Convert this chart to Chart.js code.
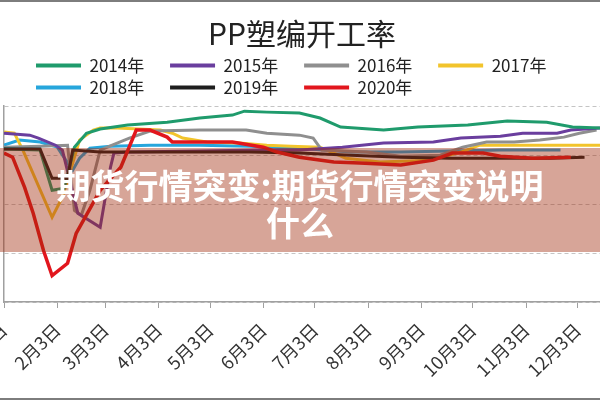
<!DOCTYPE html>
<html>
<head>
<meta charset="utf-8">
<script src="https://cdn.jsdelivr.net/npm/chart.js@4/dist/chart.umd.min.js"></script>
<style>
  body { margin: 0; background: #fff; }
  #wrap { position: relative; width: 600px; height: 400px; overflow: hidden; }
  #banner {
    position: absolute; left: 0; top: 148px; width: 600px; height: 104px;
    background: rgba(160, 40, 10, 0.42);
    color: #fff; text-align: center;
    font-family: "Noto Sans CJK SC", sans-serif; font-weight: 700;
    font-size: 34px; line-height: 37px; padding-top: 18px; box-sizing: border-box;
  }
  .edge { position: absolute; left: 0; width: 600px; height: 2px; background: #7d7d7d; }
</style>
</head>
<body>
<div id="wrap">
  <canvas id="chart" width="600" height="400"></canvas>
  <div id="banner">期货行情突变:期货行情突变说明<br>什么</div>
  <div class="edge" style="top:0"></div>
  <div class="edge" style="top:398px"></div>
</div>
<script>
// x = 日 (一年中的第几天), y = 开工率
const tickDays = [3, 34, 62, 93, 123, 154, 184, 215, 246, 276, 307, 337];
const tickLabels = ["1月3日", "2月3日", "3月3日", "4月3日", "5月3日", "6月3日",
                    "7月3日", "8月3日", "9月3日", "10月3日", "11月3日", "12月3日"];

const seriesNames = ["2014年", "2015年", "2016年", "2017年", "2018年", "2019年", "2020年"];
const seriesColors = ["#1f9b6c", "#6a3e9e", "#8f8f8f", "#f2c42c", "#26a6dc", "#1e1e1e", "#e2161d"];

const days2014 = [3, 24, 31, 38, 44, 51, 59, 75, 98, 117, 136, 143, 156, 175, 187, 199, 224, 244, 273, 296, 319, 334, 350];
const vals2014 = [62.4, 62, 45.6, 46.4, 63.2, 68.9, 70.6, 72.2, 73.4, 75.1, 76.3, 77.9, 77.5, 77.1, 75.1, 71.4, 70.2, 71.4, 72.2, 73.9, 73.4, 71.4, 71];

const days2015 = [3, 18, 23, 33, 37, 46, 59, 65, 67, 76, 117, 152, 175, 200, 224, 253, 269, 292, 305, 325, 333, 350];
const vals2015 = [68.9, 68.1, 66.9, 64, 62, 36.2, 30.5, 55, 60.8, 61.2, 61.6, 62, 62, 63.2, 64.9, 65.3, 66.9, 67.7, 68.9, 68.9, 70.2, 71];

const days2016 = [3, 24, 40, 44, 48, 53, 59, 66, 76, 88, 117, 144, 156, 175, 183, 188, 214, 234, 257, 270, 284, 300, 315, 329, 338, 348];
const vals2016 = [63.2, 63.6, 64, 37.4, 35.4, 45.6, 62, 64, 66.9, 69.8, 70.2, 70.2, 68.9, 68.1, 66.9, 62, 61.2, 59.5, 59.9, 63.2, 65.3, 65.3, 66.1, 67.3, 68.9, 70.2];

const days2017 = [3, 9, 14, 31, 37, 43, 47, 55, 59, 69, 94, 101, 107, 121, 140, 156, 170, 187, 202, 222, 251, 269, 280, 309, 333, 350];
const vals2017 = [69.4, 68.9, 62, 34.6, 42.8, 56.7, 66.1, 70.2, 71, 71, 70.2, 68.9, 66.9, 65.3, 64.9, 64, 63.6, 63.2, 58.7, 57.1, 57.9, 61.2, 64, 64, 64, 64];

const days2018 = [3, 12, 24, 34, 39, 43, 47, 53, 65, 88, 117, 146, 175, 205, 234, 263, 292, 327];
const vals2018 = [64, 66.1, 65.3, 63.2, 57.9, 53.8, 58.7, 62.8, 63.6, 64, 64, 63.6, 62.8, 61.2, 61.2, 61.6, 62, 62];

const days2019 = [3, 24, 31, 40, 43, 59, 88, 117, 146, 175, 205, 234, 263, 292, 321, 341];
const vals2019 = [62.4, 62.4, 50.5, 50.5, 62, 61.2, 61.2, 61.2, 61.2, 60.8, 59.9, 59.1, 58.7, 58.7, 58.7, 59.1];

const days2020 = [3, 8, 15, 20, 26, 31, 40, 45, 59, 71, 80, 88, 98, 101, 117, 136, 154, 162, 175, 195, 210, 234, 253, 264, 282, 292, 311, 333];
const vals2020 = [60.8, 59.1, 46.8, 36.2, 21, 10.8, 15.8, 28, 45.6, 55, 70.2, 70.2, 67.3, 65.3, 65.3, 65.3, 63.2, 61.2, 59.1, 57.1, 56.7, 55.9, 57.9, 60.8, 60.8, 59.5, 58.7, 59.1];

const allDays = [days2014, days2015, days2016, days2017, days2018, days2019, days2020];
const allVals = [vals2014, vals2015, vals2016, vals2017, vals2018, vals2019, vals2020];
const drawOrder = [2, 2, 2, 2, 2, 1, 0]; // 红线在最上面

const datasets = seriesNames.map((name, i) => ({
  label: name,
  data: allDays[i].map((d, k) => ({ x: d, y: allVals[i][k] })),
  borderColor: seriesColors[i],
  backgroundColor: seriesColors[i],
  borderWidth: i === 6 ? 3.5 : 3,
  pointRadius: 0,
  tension: 0,
  order: drawOrder[i]
}));

// 图例整体右移一点
const shiftLegend = {
  id: "shiftLegend",
  afterLayout(chart) { chart.legend.left += 27; }
};

new Chart(document.getElementById("chart"), {
  type: "line",
  data: { datasets: datasets },
  plugins: [shiftLegend],
  options: {
    responsive: false,
    animation: false,
    layout: { autoPadding: false, padding: { left: 4, right: 0, top: 0, bottom: 0 } },
    plugins: {
      title: {
        display: true,
        text: "PP塑编开工率",
        color: "#222",
        font: { family: "'Noto Sans CJK SC', sans-serif", size: 30, weight: "normal" },
        padding: { top: 16, bottom: 0 }
      },
      legend: {
        position: "top",
        align: "start",
        labels: {
          boxWidth: 45,
          boxHeight: 4,
          padding: 5,
          color: "#222",
          font: { family: "'Noto Sans CJK SC', sans-serif", size: 17 },
          generateLabels(chart) {
            const items = Chart.defaults.plugins.legend.labels.generateLabels(chart);
            items.sort((a, b) => a.datasetIndex - b.datasetIndex);
            items.forEach(it => {
              it.lineWidth = 0;
              it.fillStyle = it.strokeStyle;
              it.text = it.text + "\u2003 ";
            });
            return items;
          }
        }
      },
      tooltip: { enabled: false }
    },
    scales: {
      x: {
        type: "linear",
        min: 3,
        max: 350,
        afterBuildTicks(scale) { scale.ticks = tickDays.map(v => ({ value: v })); },
        afterFit(scale) { scale.paddingLeft = 0; scale.paddingRight = 0; scale.height = 98; },
        ticks: {
          autoSkip: false,
          minRotation: 45,
          maxRotation: 45,
          padding: 11,
          color: "#333",
          font: { family: "'Noto Sans CJK SC', sans-serif", size: 18 },
          callback: (v) => tickLabels[tickDays.indexOf(v)]
        },
        grid: { drawOnChartArea: false, tickLength: 6, color: "#a0a0a0" },
        border: { color: "#a0a0a0", width: 1.5 }
      },
      y: {
        min: 0,
        max: 80,
        ticks: { display: false, stepSize: 20 },
        grid: { color: "#c4c4c4", drawTicks: false },
        border: { color: "#a0a0a0", width: 1.5, dash: [4, 3] }
      }
    }
  }
});
</script>
</body>
</html>
